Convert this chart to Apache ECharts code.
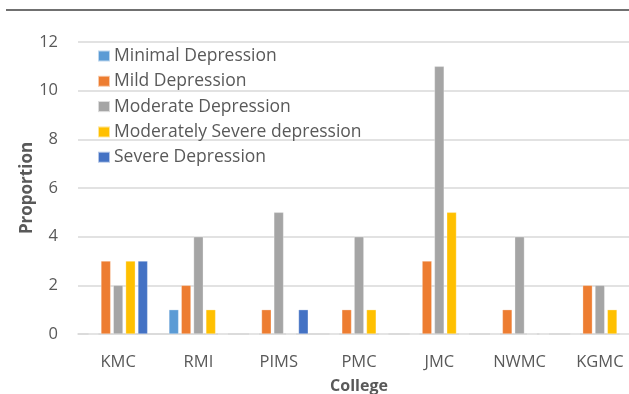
<!DOCTYPE html>
<html>
<head>
<meta charset="utf-8">
<script src="https://cdn.jsdelivr.net/npm/echarts@6/dist/echarts.min.js"></script>
<style>
html,body{margin:0;padding:0;background:#fff;}
#chart{width:629px;height:394px;}
</style>
</head>
<body>
<div id="chart"></div>
<script>
// Depression levels by college
const colleges = ['KMC', 'RMI', 'PIMS', 'PMC', 'JMC', 'NWMC', 'KGMC'];
const minimalDepression = [0, 1, 0, 0, 0, 0, 0];
const mildDepression = [3, 2, 1, 1, 3, 1, 2];
const moderateDepression = [2, 4, 5, 4, 11, 4, 2];
const moderatelySevereDepression = [3, 1, 0, 1, 5, 0, 1];
const severeDepression = [3, 0, 1, 0, 0, 0, 0];

const seriesNames = ['Minimal Depression', 'Mild Depression', 'Moderate Depression', 'Moderately Severe depression', 'Severe Depression'];
const seriesData = [minimalDepression, mildDepression, moderateDepression, moderatelySevereDepression, severeDepression];
const colors = ['#5B9BD5', '#ED7D31', '#A5A5A5', '#FFC000', '#4472C4'];

const font = '"Open Sans", "Noto Sans", sans-serif';
const chart = echarts.init(document.getElementById('chart'));

chart.setOption({
  animation: false,
  textStyle: { fontFamily: font },
  // plot area runs a little past the right edge of the canvas
  grid: { left: 78, right: -11, top: 42, bottom: 60, outerBoundsMode: 'none', containLabel: false },
  legend: {
    orient: 'vertical',
    left: 92,
    top: 42,
    itemWidth: 12,
    itemHeight: 11,
    itemGap: 7.3,
    icon: 'rect',
    textStyle: { fontFamily: font, fontSize: 17.5, lineHeight: 17, color: '#595959', padding: [0, 0, 0, -1] },
    data: seriesNames
  },
  xAxis: {
    type: 'category',
    data: colleges,
    name: 'College',
    nameLocation: 'middle',
    nameGap: 44,
    nameMoveOverlap: false,
    nameTextStyle: { fontFamily: font, fontSize: 16, fontWeight: 'bold', color: '#595959' },
    axisLine: { lineStyle: { color: '#D9D9D9', width: 1.5 } },
    axisTick: { show: false },
    axisLabel: { fontFamily: font, fontSize: 16.5, color: '#595959', margin: 20 }
  },
  yAxis: {
    type: 'value',
    min: 0,
    max: 12,
    interval: 2,
    name: 'Proportion',
    nameLocation: 'middle',
    nameGap: 42,
    nameMoveOverlap: false,
    nameTextStyle: { fontFamily: font, fontSize: 17, fontWeight: 'bold', color: '#595959' },
    axisLine: { show: false },
    axisTick: { show: false },
    axisLabel: { fontFamily: font, fontSize: 16.5, color: '#595959', margin: 20 },
    splitLine: { lineStyle: { color: '#D9D9D9', width: 1.5 } }
  },
  graphic: [{
    type: 'line',
    shape: { x1: 6, y1: 10, x2: 629, y2: 10 },
    style: { stroke: '#404040', lineWidth: 1.5 }
  }],
  series: seriesNames.map((name, i) => ({
    name: name,
    type: 'bar',
    data: seriesData[i],
    barGap: '27%',
    barCategoryGap: '26.5%',
    itemStyle: { color: colors[i], borderColor: 'rgba(255,255,255,0.6)', borderWidth: 0.5 }
  }))
});
</script>
</body>
</html>
